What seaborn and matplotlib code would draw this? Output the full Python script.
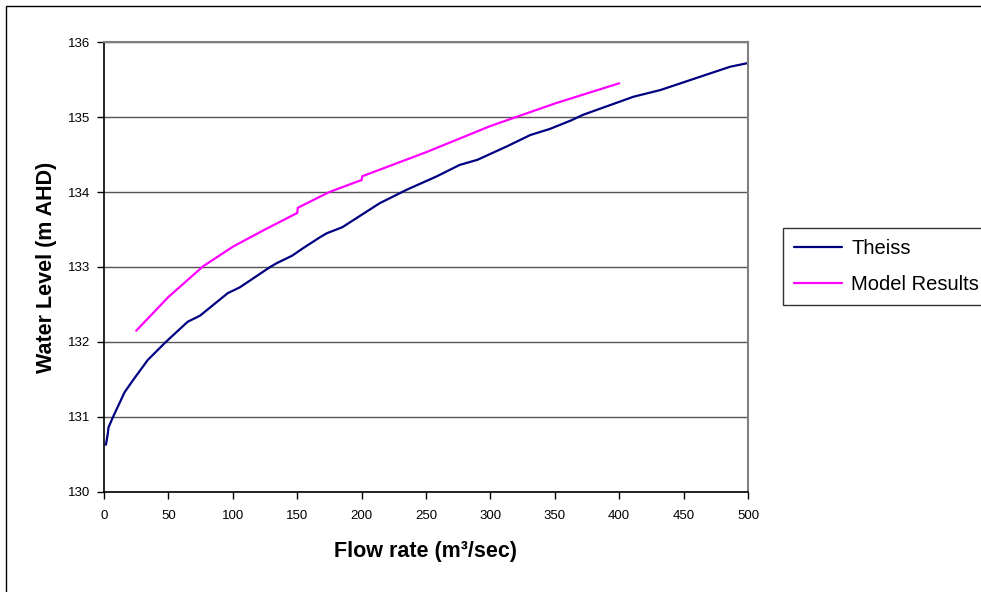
import numpy as np
import pandas as pd
import matplotlib
matplotlib.use("Agg")
import matplotlib.pyplot as plt
from matplotlib.patches import Rectangle
import seaborn as sns

# ── data ──────────────────────────────────────────────────────────────────────

theiss_q = [1.5, 3, 3.5, 7, 16, 22.5, 34, 48, 65, 74.5, 96, 105.6, 129, 134,
            146, 154.5, 168, 173, 185, 214, 235, 258.5, 276, 290, 313, 331,
            346, 362, 372, 411, 432, 486, 500]
theiss_wl = [130.63, 130.78, 130.86, 131.0, 131.33, 131.49, 131.76, 132.0,
             132.27, 132.35, 132.65, 132.73, 133.0, 133.05, 133.15, 133.25,
             133.4, 133.45, 133.53, 133.85, 134.03, 134.21, 134.36, 134.43,
             134.61, 134.76, 134.84, 134.95, 135.03, 135.27, 135.36, 135.67,
             135.72]

model_q = [25, 50, 77, 100, 125, 150, 150.5, 175, 200, 200.5, 250, 300, 350, 400]
model_wl = [132.15, 132.6, 133.01, 133.27, 133.5, 133.72, 133.79, 134.0,
            134.16, 134.21, 134.53, 134.88, 135.18, 135.45]

x_ticks = list(range(0, 501, 50))
y_ticks = list(range(130, 137))

df = pd.concat([
    pd.DataFrame({"q": theiss_q, "wl": theiss_wl, "series": "Theiss"}),
    pd.DataFrame({"q": model_q, "wl": model_wl, "series": "Model Results"}),
], ignore_index=True)

# ── figure ────────────────────────────────────────────────────────────────────

sns.set_style("white")
plt.rcParams["font.family"] = ["Liberation Sans", "DejaVu Sans"]
plt.rcParams["text.color"] = "black"
plt.rcParams["axes.labelcolor"] = "black"
plt.rcParams["xtick.color"] = "black"
plt.rcParams["ytick.color"] = "black"

fig = plt.figure(figsize=(9.81, 5.92), dpi=100, facecolor="white")
ax = fig.add_axes([0.106, 0.169, 0.6565, 0.76])

# outer chart frame (only left/top edges visible in the reference)
fig.patches.append(Rectangle((6 / 981, -0.05), 1.1, 1 - 6 / 592 + 0.05,
                             transform=fig.transFigure, fill=False,
                             edgecolor="black", linewidth=1.0))

sns.lineplot(data=df, x="q", y="wl", hue="series", sort=False, estimator=None,
             palette={"Theiss": "#000080", "Model Results": "#FF00FF"},
             linewidth=1.6, ax=ax, legend=False)

ax.set_xlim(0, 500)
ax.set_ylim(130, 136)
ax.set_xticks(x_ticks)
ax.set_yticks(y_ticks)
ax.yaxis.grid(True, color="#555555", linewidth=1.0)
ax.xaxis.grid(False)
ax.tick_params(axis="both", direction="out", length=5, width=1,
               labelsize=9.5, color="black", labelcolor="black",
               left=True, bottom=True)
ax.tick_params(axis="x", pad=8)
ax.tick_params(axis="y", pad=5)

for side in ("top", "right"):
    ax.spines[side].set_color("#808080")
    ax.spines[side].set_linewidth(1.5)
for side in ("left", "bottom"):
    ax.spines[side].set_color("black")
    ax.spines[side].set_linewidth(1.2)

ax.set_xlabel("Flow rate (m³/sec)", fontsize=15.5, fontweight="bold",
              labelpad=14, color="black")
ax.set_ylabel("Water Level (m AHD)", fontsize=15.5, fontweight="bold",
              labelpad=8, color="black")

handles = [plt.Line2D([], [], color="#000080", linewidth=1.6),
           plt.Line2D([], [], color="#FF00FF", linewidth=1.6)]
leg = fig.legend(handles, ["Theiss", "Model Results"], loc="upper left",
                 bbox_to_anchor=(783 / 981, 1 - 228 / 592), fontsize=14.5,
                 frameon=True, fancybox=False, edgecolor="black",
                 handlelength=2.4, borderpad=0.55, labelspacing=0.85,
                 handletextpad=0.45, borderaxespad=0)
leg.get_frame().set_linewidth(1.0)

fig.savefig("out.png", dpi=100)
